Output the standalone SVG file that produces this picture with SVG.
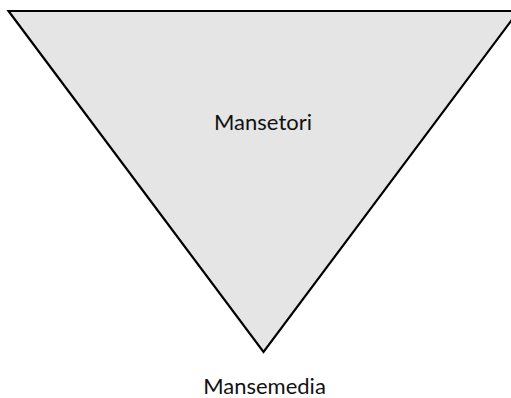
<svg xmlns="http://www.w3.org/2000/svg" width="511" height="398" viewBox="0 0 511 398">
<style>
.shape{fill:#e5e5e5;stroke:#000;stroke-width:2.2;stroke-linejoin:miter}
.lbl{font-family:"Lato","Open Sans",sans-serif;font-size:22px;fill:#111;text-anchor:middle}
</style>
<rect width="511" height="398" fill="#fff"/>
<g id="node-triangle">
<polygon class="shape" points="8.5,11 518.5,11 263.5,352"/>
<text class="lbl" x="263" y="129.5">Mansetori</text>
</g>
<g id="node-bottom">
<text class="lbl" x="264.5" y="394.3">Mansemedia</text>
</g>
<g id="connectors"></g>
</svg>
